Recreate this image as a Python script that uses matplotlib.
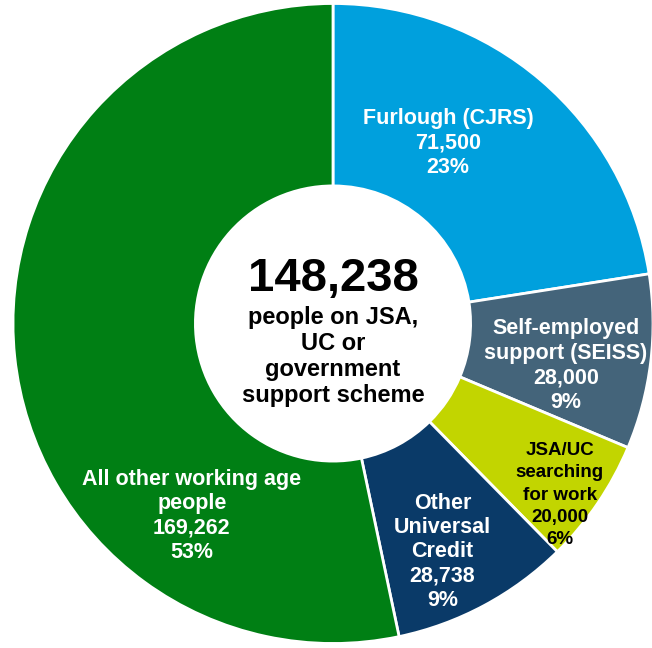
import matplotlib
matplotlib.use("Agg")
import matplotlib.pyplot as plt

plt.rcParams['font.family'] = ['Liberation Sans', 'DejaVu Sans']

# slices, clockwise from 12 o'clock
labels = ['Furlough (CJRS)', 'Self-employed\nsupport (SEISS)', 'JSA/UC\nsearching\nfor work',
          'Other\nUniversal\nCredit', 'All other working age\npeople']
values = [71500, 28000, 20000, 28738, 169262]
pcts = ['23%', '9%', '6%', '9%', '53%']
colors = ['#00A0DD', '#44647A', '#C2D500', '#0A3A68', '#007F14']
text_colors = ['white', 'white', 'black', 'white', 'white']

total_title = '148,238'
total_sub = 'people on JSA,\nUC or\ngovernment\nsupport scheme'

# label anchor positions (pie radius = 1)
label_pos = [(0.359, 0.565), (0.728, -0.132), (0.709, -0.536), (0.342, -0.714), (-0.441, -0.602)]
label_size = [15.5, 15.5, 13.5, 15.5, 15.5]
label_spacing = [1.22, 1.22, 1.4, 1.2, 1.22]

fig = plt.figure(figsize=(6.52, 6.48), dpi=100)
ax = fig.add_axes([0, 0, 1, 1])

ax.pie(values, colors=colors, startangle=90, counterclock=False,
       wedgeprops=dict(width=0.57, edgecolor='white', linewidth=2))

for lab, v, p, c, pos, fs, ls in zip(labels, values, pcts, text_colors, label_pos, label_size, label_spacing):
    ax.text(pos[0], pos[1], f"{lab}\n{v:,}\n{p}", color=c, fontsize=fs, fontweight='bold',
            ha='center', va='center', linespacing=ls)

ax.text(0, 0.14, total_title, fontsize=34, fontweight='bold', ha='center', va='center')
ax.text(0, -0.103, total_sub, fontsize=17, fontweight='bold', ha='center', va='center',
        linespacing=1.17)

ax.set_xlim(-333 / 320, 319 / 320)
ax.set_ylim(-324.5 / 320, 323.5 / 320)
ax.set_aspect('equal')
ax.axis('off')

fig.savefig('out.png', dpi=100)
